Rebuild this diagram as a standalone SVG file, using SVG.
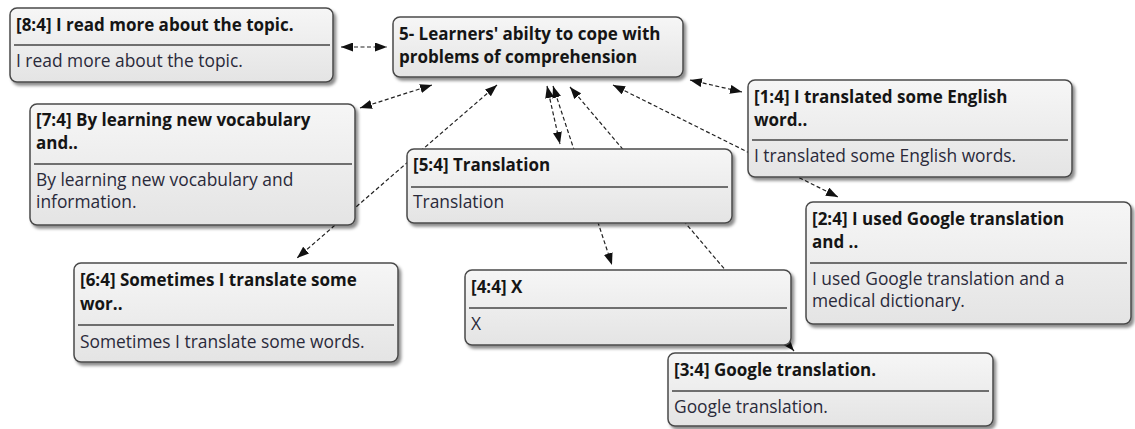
<svg xmlns="http://www.w3.org/2000/svg" width="1135" height="429" viewBox="0 0 1135 429">
<defs>
<linearGradient id="g" x1="0" y1="0" x2="0" y2="1">
<stop offset="0" stop-color="#f6f6f6"/>
<stop offset="1" stop-color="#e4e4e4"/>
</linearGradient>
<filter id="sh" x="-5%" y="-10%" width="115%" height="130%">
<feDropShadow dx="2.5" dy="3" stdDeviation="1.5" flood-color="#000" flood-opacity="0.45"/>
</filter>
<marker id="ah" viewBox="0 0 12 9" refX="12" refY="4.5" markerWidth="12" markerHeight="9" markerUnits="userSpaceOnUse" orient="auto-start-reverse">
<path d="M0,0 L12,4.5 L0,9 z" fill="#111"/>
</marker>
</defs>
<style>
.box{fill:url(#g);stroke:#4a4a4a;stroke-width:1.5;filter:url(#sh)}
.sep{stroke:#444;stroke-width:1.5}
.t{font-family:"Open Sans","Noto Sans","DejaVu Sans",sans-serif;font-size:17px;font-weight:bold;fill:#151515}
.b{font-family:"Open Sans","Noto Sans","DejaVu Sans",sans-serif;font-size:17.4px;fill:#2a2a3a}
.c{fill:none;stroke:#222;stroke-width:1.2;stroke-dasharray:4 2.5}
.bi{marker-start:url(#ah);marker-end:url(#ah)}
</style>
<g id="connectors">
<line class="c bi" x1="341" y1="47" x2="387" y2="47"/>
<line class="c bi" x1="360" y1="108" x2="432" y2="85"/>
<line class="c bi" x1="497" y1="85" x2="297" y2="258"/>
<line class="c bi" x1="547" y1="86" x2="560" y2="144"/>
<line class="c bi" x1="553" y1="86" x2="612" y2="265"/>
<line class="c bi" x1="570" y1="87" x2="794" y2="351"/>
<line class="c bi" x1="613" y1="85" x2="838" y2="197"/>
<line class="c bi" x1="690" y1="80" x2="742" y2="92"/>
</g>
<g id="n5">
<rect class="box" x="393" y="17" width="290" height="60" rx="7"/>
<text class="t" x="399" y="40">5- Learners' abilty to cope with</text>
<text class="t" x="399" y="63">problems of comprehension</text>
</g>
<g id="n8">
<rect class="box" x="10" y="8" width="323" height="74" rx="7"/>
<text class="t" x="16" y="31">[8:4] I read more about the topic.</text>
<line class="sep" x1="14" y1="45" x2="330" y2="45"/>
<text class="b" x="16" y="67">I read more about the topic.</text>
</g>
<g id="n7">
<rect class="box" x="30" y="104" width="325" height="121" rx="7"/>
<text class="t" x="36" y="126">[7:4] By learning new vocabulary</text>
<text class="t" x="36" y="149">and..</text>
<line class="sep" x1="34" y1="164" x2="352" y2="164"/>
<text class="b" x="36" y="186">By learning new vocabulary and</text>
<text class="b" x="36" y="208">information.</text>
</g>
<g id="n1">
<rect class="box" x="748" y="80" width="324" height="97" rx="7"/>
<text class="t" x="754" y="103">[1:4] I translated some English</text>
<text class="t" x="754" y="126">word..</text>
<line class="sep" x1="752" y1="140" x2="1068" y2="140"/>
<text class="b" x="754" y="162">I translated some English words.</text>
</g>
<g id="n5-4">
<rect class="box" x="407" y="149" width="325" height="74" rx="7"/>
<text class="t" x="413" y="171">[5:4] Translation</text>
<line class="sep" x1="411" y1="187" x2="728" y2="187"/>
<text class="b" x="413" y="208">Translation</text>
</g>
<g id="n2">
<rect class="box" x="806" y="202" width="325" height="122" rx="7"/>
<text class="t" x="812" y="225">[2:4] I used Google translation</text>
<text class="t" x="812" y="248">and ..</text>
<line class="sep" x1="810" y1="263" x2="1127" y2="263"/>
<text class="b" x="812" y="285">I used Google translation and a</text>
<text class="b" x="812" y="307">medical dictionary.</text>
</g>
<g id="n6">
<rect class="box" x="74" y="263" width="324" height="99" rx="7"/>
<text class="t" x="80" y="286">[6:4] Sometimes I translate some</text>
<text class="t" x="80" y="310">wor..</text>
<line class="sep" x1="78" y1="325" x2="394" y2="325"/>
<text class="b" x="80" y="348">Sometimes I translate some words.</text>
</g>
<g id="n4">
<rect class="box" x="465" y="270" width="326" height="75" rx="7"/>
<text class="t" x="471" y="293">[4:4] X</text>
<line class="sep" x1="469" y1="308" x2="787" y2="308"/>
<text class="b" x="471" y="330">X</text>
</g>
<g id="n3">
<rect class="box" x="668" y="353" width="325" height="73" rx="7"/>
<text class="t" x="674" y="376">[3:4] Google translation.</text>
<line class="sep" x1="672" y1="391" x2="989" y2="391"/>
<text class="b" x="674" y="413">Google translation.</text>
</g>
</svg>
